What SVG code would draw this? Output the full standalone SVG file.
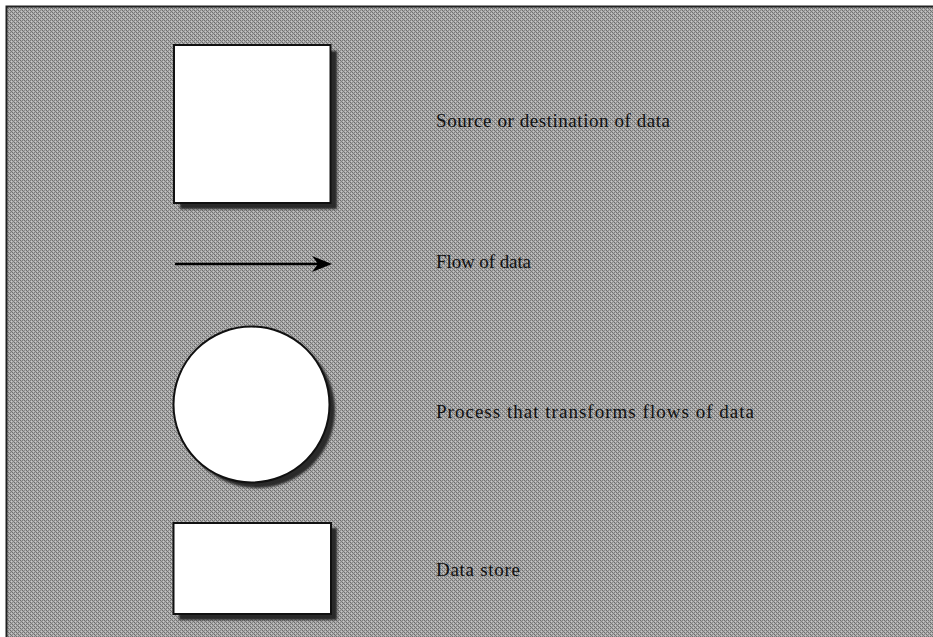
<svg xmlns="http://www.w3.org/2000/svg" width="933" height="637" viewBox="0 0 933 637">
<defs>
<pattern id="dots" width="4" height="4" patternUnits="userSpaceOnUse">
<rect width="4" height="4" fill="#ababab"/>
<rect width="1" height="1" fill="#6e6e6e"/>
<rect x="2" y="0" width="1" height="1" fill="#7e7e7e"/>
<rect x="1" y="1" width="1" height="1" fill="#808080"/>
<rect x="3" y="1" width="1" height="1" fill="#c8c8c8"/>
<rect x="0" y="2" width="1" height="1" fill="#8a8a8a"/>
<rect x="2" y="2" width="1" height="1" fill="#6a6a6a"/>
<rect x="1" y="3" width="1" height="1" fill="#c4c4c4"/>
<rect x="3" y="3" width="1" height="1" fill="#787878"/>
</pattern>
<filter id="sh" x="-10%" y="-10%" width="130%" height="130%">
<feGaussianBlur stdDeviation="1"/>
</filter>
</defs>
<style>
.shape{fill:#fff;stroke:#111;stroke-width:2}
.shadow{fill:#2a2a2a;filter:url(#sh)}
.lbl{font-family:"Liberation Serif","Times New Roman",serif;font-size:19px;fill:#111}
</style>
<rect x="0" y="0" width="933" height="637" fill="#fff"/>
<rect x="6" y="6" width="927" height="631" fill="url(#dots)"/>
<path d="M6.5,637 V6.5 H933" fill="none" stroke="#222" stroke-width="2"/>
<g id="source">
<rect class="shadow" x="180" y="51" width="157" height="158"/>
<rect class="shape" x="174" y="45" width="156.5" height="158"/>
<text class="lbl" x="436" y="127" textLength="234">Source or destination of data</text>
</g>
<g id="connectors">
<line x1="175" y1="264" x2="318" y2="264" stroke="#000" stroke-width="2.5"/>
<path d="M312,256 L332,264 L312,272 L318,264 Z" fill="#000"/>
</g>
<g id="flow">
<text class="lbl" x="436" y="268" textLength="95">Flow of data</text>
</g>
<g id="process">
<circle class="shadow" cx="257" cy="410" r="78"/>
<circle class="shape" cx="251.5" cy="404.5" r="78"/>
<text class="lbl" x="436" y="418" textLength="318">Process that transforms flows of data</text>
</g>
<g id="store">
<rect class="shadow" x="179" y="528" width="158" height="92"/>
<rect class="shape" x="173.5" y="523" width="157.5" height="91"/>
<text class="lbl" x="436" y="576" textLength="84">Data store</text>
</g>
</svg>
